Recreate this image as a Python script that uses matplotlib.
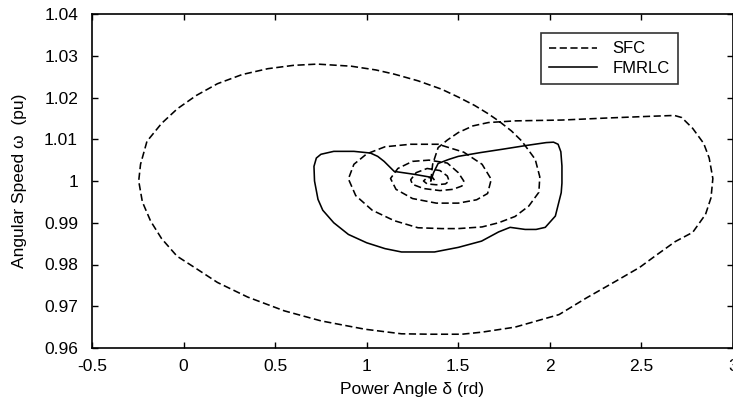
import matplotlib

matplotlib.use("Agg")

import matplotlib.pyplot as plt

plt.rcParams["font.family"] = ["Liberation Sans", "DejaVu Sans"]

# SFC trajectory (power angle, angular speed)
sfc_delta = [1.35, 1.36, 1.39, 1.44, 1.50, 1.58, 1.664, 1.81, 2.066, 2.32, 2.55, 2.68, 2.72,
             2.78, 2.84, 2.87, 2.89, 2.88, 2.85, 2.78, 2.685, 2.58, 2.49, 2.36, 2.2, 2.05,
             1.81, 1.63, 1.52, 1.35, 1.19, 0.99, 0.75, 0.55, 0.35, 0.185, 0.07, -0.036,
             -0.12, -0.18, -0.225, -0.245, -0.235, -0.2, -0.12, -0.034, 0.07, 0.185, 0.32,
             0.46, 0.6, 0.73, 0.915, 1.05, 1.15, 1.28, 1.408, 1.5, 1.589, 1.66, 1.72, 1.79,
             1.846, 1.92, 1.945, 1.94, 1.885, 1.81, 1.72, 1.63, 1.5, 1.41, 1.28, 1.15, 1.03,
             0.94, 0.9, 0.93, 1.0, 1.1, 1.24, 1.39, 1.53, 1.63, 1.68, 1.66, 1.6, 1.5, 1.38,
             1.25, 1.16, 1.13, 1.17, 1.25, 1.34, 1.44, 1.5, 1.53, 1.52, 1.47, 1.40, 1.31,
             1.25, 1.24, 1.27, 1.33, 1.40, 1.44, 1.45, 1.43, 1.38, 1.33, 1.31, 1.33, 1.36,
             1.37, 1.355]
sfc_omega = [1.0, 1.004, 1.008, 1.0098, 1.0116, 1.0132, 1.014, 1.0144, 1.0146, 1.0151, 1.0155,
             1.0157, 1.0152, 1.0126, 1.009, 1.0055, 1.0006, 0.996, 0.992, 0.9877, 0.9855,
             0.9822, 0.9793, 0.976, 0.972, 0.968, 0.965, 0.9638, 0.9633, 0.9633, 0.9634,
             0.9645, 0.9665, 0.9689, 0.9722, 0.9757, 0.979, 0.982, 0.9862, 0.9904, 0.995,
             1.0, 1.004, 1.0095, 1.0138, 1.0173, 1.0205, 1.0233, 1.0255, 1.0269, 1.0277,
             1.028, 1.0275, 1.0266, 1.0256, 1.024, 1.022, 1.0201, 1.0181, 1.0162, 1.0144,
             1.012, 1.0096, 1.0052, 1.001, 0.9973, 0.994, 0.9915, 0.990, 0.989, 0.9886,
             0.9886, 0.9888, 0.9905, 0.993, 0.9965, 1.0005, 1.004, 1.0065, 1.0082, 1.0088,
             1.0088, 1.0069, 1.004, 1.0004, 0.997, 0.9955, 0.9947, 0.9947, 0.9958, 0.998,
             1.0006, 1.003, 1.0047, 1.005, 1.0043, 1.002, 1.0, 0.9988, 0.998, 0.9977,
             0.9982, 0.9992, 1.0003, 1.002, 1.003, 1.0025, 1.0012, 1.0, 0.9993, 0.9991,
             0.9993, 1.0, 1.0008, 1.0008, 1.0002, 1.0]

# FMRLC trajectory
fmrlc_delta = [1.35, 1.365, 1.39, 1.45, 1.5, 1.62, 1.74, 1.87, 1.98, 2.02, 2.045, 2.06, 2.066,
               2.066, 2.062, 2.03, 1.975, 1.925, 1.865, 1.783, 1.72, 1.627, 1.5, 1.37, 1.19,
               1.1, 1.0, 0.9, 0.82, 0.76, 0.734, 0.715, 0.712, 0.725, 0.75, 0.82, 0.93, 1.02,
               1.06, 1.095, 1.15, 1.26, 1.35]
fmrlc_omega = [1.0, 1.002, 1.0042, 1.0052, 1.0059, 1.0068, 1.0076, 1.0085, 1.0092, 1.0093,
               1.0088, 1.007, 1.0036, 0.9995, 0.9972, 0.9916, 0.9889, 0.9884, 0.9884, 0.9889,
               0.9878, 0.9856, 0.9841, 0.983, 0.983, 0.9838, 0.9852, 0.9872, 0.990, 0.993,
               0.9956, 1.0, 1.0035, 1.0055, 1.0064, 1.0071, 1.0071, 1.0067, 1.0059, 1.0047,
               1.0023, 1.0016, 1.0009]

x_ticks = [-0.5, 0, 0.5, 1, 1.5, 2, 2.5, 3]
x_labels = ["-0.5", "0", "0.5", "1", "1.5", "2", "2.5", "3"]
y_ticks = [0.96, 0.97, 0.98, 0.99, 1.0, 1.01, 1.02, 1.03, 1.04]
y_labels = ["0.96", "0.97", "0.98", "0.99", "1", "1.01", "1.02", "1.03", "1.04"]

fig = plt.figure(figsize=(7.33, 4.13), dpi=100)
ax = fig.add_axes([92 / 733, 65 / 413, 641 / 733, 334 / 413])

ax.plot(sfc_delta, sfc_omega, color="black", linewidth=1.15,
        linestyle=(0, (4.5, 2.2)), label="SFC")
ax.plot(fmrlc_delta, fmrlc_omega, color="black", linewidth=1.15, label="FMRLC")

ax.set_xlim(-0.5, 3)
ax.set_ylim(0.96, 1.04)
ax.set_xticks(x_ticks, x_labels)
ax.set_yticks(y_ticks, y_labels)
ax.tick_params(direction="in", length=4, width=1, labelsize=12.5,
               top=True, right=True)
ax.tick_params(axis="y", pad=10)
ax.tick_params(axis="x", pad=8)
for s in ax.spines.values():
    s.set_linewidth(1.2)

ax.set_xlabel("Power Angle δ (rd)", fontsize=12.5, labelpad=6)
ax.set_ylabel("Angular Speed ω  (pu)", fontsize=12.5, labelpad=12)

leg = ax.legend(loc="upper right", bbox_to_anchor=(0.914, 0.943), borderaxespad=0,
                fancybox=False, frameon=True, edgecolor="black", fontsize=12,
                handlelength=2.9, handletextpad=0.9, labelspacing=0.25,
                borderpad=0.5)
leg.get_frame().set_linewidth(1.2)

fig.savefig("out.png", dpi=100)
